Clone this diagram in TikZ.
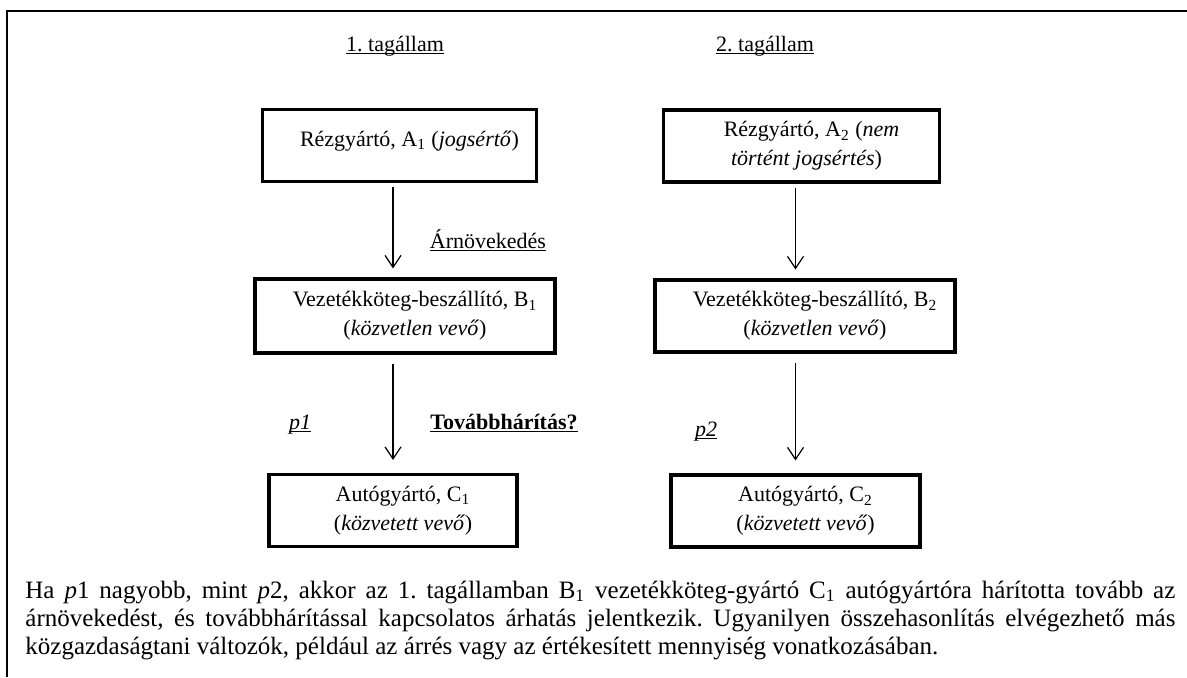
\documentclass[tikz,border=0pt]{standalone}
\usepackage{fontspec}
\setmainfont{Liberation Serif}
\usetikzlibrary{arrows.meta}
\frenchspacing

\newcommand{\ulin}[1]{\underline{\smash{#1}}}
\newcommand{\beh}{\hspace*{10pt}}

\begin{document}
\begin{tikzpicture}[x=0.5pt,y=-0.5pt,>={Straight Barb[length=6pt,width=8pt]},
	firm/.style={draw,line width=1.8pt,align=center,inner sep=2pt,
		font=\fontsize{11}{14.5}\selectfont},
	lab/.style={anchor=base,inner sep=0pt,font=\fontsize{11}{13}\selectfont},
	parline/.style={anchor=base west,inner sep=0pt,font=\fontsize{12.5}{14}\selectfont}]
	\useasboundingbox (0,0) rectangle (1187,677);
	% keret
	\draw[line width=1.1pt] (7,677) -- (7,11) -- (1187,11);

	\node[lab] (t1) at (395,51) {\ulin{1. tagállam}};
	\node[lab] (t2) at (765,51) {\ulin{2. tagállam}};

	\node[firm,minimum width=137pt,minimum height=36pt,text depth=7pt] (A1) at (399.5,145.5)
		{\beh Rézgyártó, A\textsubscript{1} (\textit{jogsértő})};
	\node[firm,minimum width=150pt,minimum height=37pt] (B1) at (405,316)
		{\beh Vezetékköteg-beszállító, B\textsubscript{1}\\\beh(\textit{közvetlen vevő})};
	\node[firm,minimum width=124pt,minimum height=36pt] (C1) at (393,510.5)
		{\beh Autógyártó, C\textsubscript{1}\\\beh(\textit{közvetett vevő})};

	\node[firm,minimum width=138pt,minimum height=36pt] (A2) at (801.5,146)
		{\beh Rézgyártó, A\textsubscript{2} (\textit{nem}\\\hspace*{5pt}\textit{történt jogsértés})};
	\node[firm,minimum width=150pt,minimum height=36pt] (B2) at (805,316)
		{\beh Vezetékköteg-beszállító, B\textsubscript{2}\\\beh(\textit{közvetlen vevő})};
	\node[firm,minimum width=124.5pt,minimum height=36pt] (C2) at (795.5,511)
		{\beh Autógyártó, C\textsubscript{2}\\\beh(\textit{közvetett vevő})};

	\foreach \u/\v/\w/\a/\b in {A1/B1/C1/1.9pt/4.4pt,B1/C1/C1/4.4pt/6.4pt,
		A2/B2/C2/1.9pt/4.4pt,B2/C2/C2/4.4pt/6.4pt}
		\draw[->,line width=0.6pt,shorten <=\a,shorten >=\b] (\u.south -| \w.north) -- (\v.north -| \w.north);

	\node[lab] (arn) at (488,248) {\ulin{Árnövekedés}};
	\node[lab] (p1) at (300,429) {\ulin{\textit{p1}}};
	\node[lab] (tov) at (504,429) {\ulin{\textbf{Továbbhárítás?}}};
	\node[lab] (p2) at (706,436) {\ulin{\textit{p2}}};

	\node[parline] (s1) at (25,598) {\makebox[575pt][s]{Ha \textit{p}1 nagyobb, mint \textit{p}2, akkor az 1. tagállamban B\textsubscript{1} vezetékköteg-gyártó C\textsubscript{1} autógyártóra hárította tovább az}};
	\node[parline] (s2) at (25,626) {\makebox[575pt][s]{árnövekedést, és továbbhárítással kapcsolatos árhatás jelentkezik. Ugyanilyen összehasonlítás elvégezhető más}};
	\node[parline] (s3) at (25,654) {közgazdaságtani változók, például az árrés vagy az értékesített mennyiség vonatkozásában.};
\end{tikzpicture}
\end{document}
